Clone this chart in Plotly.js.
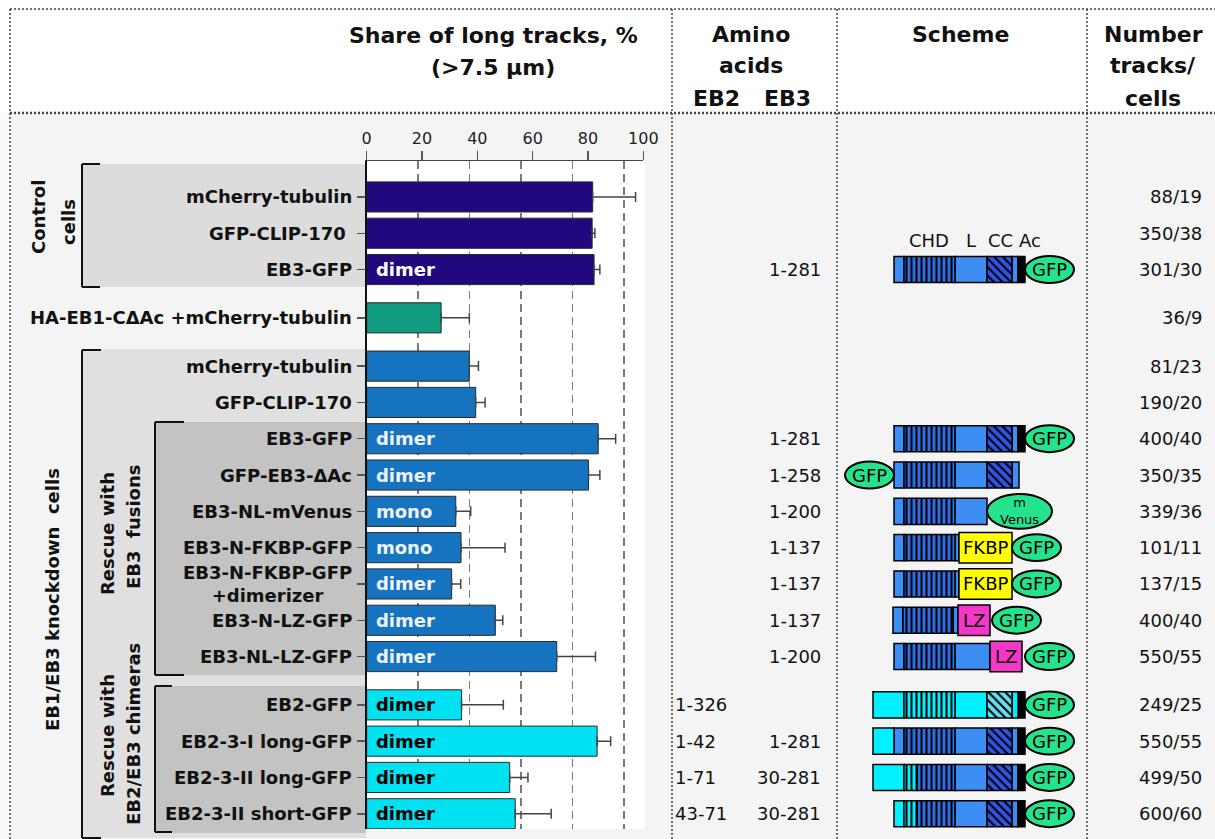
<!DOCTYPE html>
<html><head><meta charset="utf-8">
<script src="https://cdn.plot.ly/plotly-3.0.1.min.js"></script>
<style>html,body{margin:0;padding:0;background:#f4f4f4;} #chart{width:1215px;height:839px;}</style>
</head><body><div id="chart"></div>
<script>
// ---------------- data ----------------
const rowLabels = ['mCherry-tubulin','GFP-CLIP-170\u00a0','EB3-GFP','HA-EB1-CΔAc +mCherry-tubulin',
  'mCherry-tubulin','GFP-CLIP-170','EB3-GFP','GFP-EB3-ΔAc','EB3-NL-mVenus','EB3-N-FKBP-GFP',
  'EB3-N-FKBP-GFP<br>+dimerizer','EB3-N-LZ-GFP','EB3-NL-LZ-GFP','EB2-GFP','EB2-3-I long-GFP',
  'EB2-3-II long-GFP','EB2-3-II short-GFP'];
const longTrackShare = [81.7,81.5,82.2,26.9,37.1,39.4,83.7,80.2,32.2,34.1,30.7,46.5,68.7,34.3,83.3,51.7,53.7];
const shareError     = [15.5,1.0,2.1,10.2,3.3,3.4,6.3,4.1,5.4,15.9,3.3,2.7,14.0,15.1,4.9,6.6,13.0];
const oligomer = ['','','dimer','','','','dimer','dimer','mono','mono','dimer','dimer','dimer','dimer','dimer','dimer','dimer'];
const aaEB2 = ['','','','','','','','','','','','','','1-326','1-42','1-71','43-71'];
const aaEB3 = ['','','1-281','','','','1-281','1-258','1-200','1-137','1-137','1-137','1-200','','1-281','30-281','30-281'];
const tracksCells = ['88/19','350/38','301/30','36/9','81/23','190/20','400/40','350/35','339/36','101/11','137/15','400/40','550/55','249/25','550/55','499/50','600/60'];
const cellGroup = ['control','control','control','HA','KD','KD','KD','KD','KD','KD','KD','KD','KD','chimera','chimera','chimera','chimera'];
const block = [0,0,0,1,2,2,2,2,2,2,2,2,2,3,3,3,3];
const xTicks = [0,20,40,60,80,100];

// scheme: row index -> domain segments [type,start,end] and tag ellipse [label,start,end]
const schemeRows = [2,6,7,8,9,10,11,12,13,14,15,16];
const schemeParts = [
  [['N',0,10],['CHD',10,61],['N',61,93],['CC',93,118],['N',118,124],['Ac',124,131]],
  [['N',0,10],['CHD',10,61],['N',61,93],['CC',93,118],['N',118,124],['Ac',124,131]],
  [['N',0,10],['CHD',10,61],['N',61,93],['CC',93,118],['N',118,125]],
  [['N',0,10],['CHD',10,61],['N',61,93]],
  [['N',0,10],['CHD',10,61],['N',61,65],['FKBP',65,118]],
  [['N',0,10],['CHD',10,61],['N',61,65],['FKBP',65,118]],
  [['N',-1,9],['CHD',9,59],['N',59,64],['LZ',64,96]],
  [['N',0,10],['CHD',10,61],['N',61,96],['LZ',96,128]],
  [['cN',-21,10],['cCHD',10,61],['cN',61,93],['cCC',93,118],['cN',118,124],['Ac',124,131]],
  [['cN',-21,0],['N',0,10],['CHD',10,61],['N',61,93],['CC',93,118],['N',118,124],['Ac',124,131]],
  [['cN',-21,10],['cCHD',10,23],['CHD',23,61],['N',61,93],['CC',93,118],['N',118,124],['Ac',124,131]],
  [['cN',0,10],['cCHD',10,23],['CHD',23,61],['N',61,93],['CC',93,118],['N',118,124],['Ac',124,131]]
];
const schemeTags = [
  ['GFP',131,180],['GFP',131,180],['GFP',-49,0],['m<br>Venus',93,158],['GFP',118,167],['GFP',118,167],
  ['GFP',98,147],['GFP',131,180],['GFP',131,180],['GFP',131,180],['GFP',131,180],['GFP',131,180]
];
const domainLabels = [['CHD',35],['L',76.7],['CC',106.7],['Ac',136]];

// ---------------- helpers / styles ----------------
const W=1215,H=839;
const PX=x=>x/W, PY=y=>1-y/H;
const GAP=0.33;
const rowPos = block.map((b,i)=>i+GAP*b);
const FONT='DejaVu Sans';
const groupColors = {control:'#22087f', HA:'#109a80', KD:'#1673bf', chimera:'#00e2f2'};
const textColors  = {control:'#ffffff', HA:'#ffffff', KD:'#eef3f9', chimera:'#000000'};
const segStyle = {
  N:   {color:'#3d8ef4'},
  CHD: {color:'#3d8ef4', pattern:{shape:'|', fgcolor:'#000', bgcolor:'#2f6fe6', size:5, solidity:0.4}},
  CC:  {color:'#2f55e6', pattern:{shape:'\\', fgcolor:'#000', bgcolor:'#2f55e6', size:6, solidity:0.35}},
  Ac:  {color:'#000000'},
  cN:  {color:'#00f0ff'},
  cCHD:{color:'#00f0ff', pattern:{shape:'|', fgcolor:'#000', bgcolor:'#00f0ff', size:5, solidity:0.4}},
  cCC: {color:'#5fe3f3', pattern:{shape:'\\', fgcolor:'#000', bgcolor:'#5fe3f3', size:6, solidity:0.35}},
  FKBP:{color:'#ffff00', tall:true},
  LZ:  {color:'#f536c8', tall:true}
};

const traces = [];
traces.push({type:'bar', orientation:'h', x:longTrackShare, y:rowPos, xaxis:'x', yaxis:'y', width:0.83,
  marker:{color:cellGroup.map(g=>groupColors[g]), line:{color:'#2a2a2a', width:1}},
  error_x:{type:'data', symmetric:false, array:shareError, arrayminus:shareError.map(()=>0), color:'#444', thickness:1.5, width:5},
  text:oligomer.map(t=>t?'\u00a0'+t:''), textposition:'inside', insidetextanchor:'start', textangle:0, constraintext:'none',
  textfont:{family:FONT, size:18, weight:'bold', color:cellGroup.map(g=>textColors[g])},
  hoverinfo:'skip', cliponaxis:false, showlegend:false});
// helper trace so the grid axis is drawn
traces.push({type:'scatter', x:[], y:[], xaxis:'x2', yaxis:'y', hoverinfo:'skip', showlegend:false});

// scheme segments grouped by type
Object.keys(segStyle).forEach(type=>{
  const ys=[], xs=[], bases=[];
  schemeParts.forEach((parts,k)=>parts.forEach(p=>{
    if(p[0]===type){ ys.push(rowPos[schemeRows[k]]); bases.push(p[1]); xs.push(p[2]-p[1]); }
  }));
  if(!ys.length) return;
  const st=segStyle[type];
  const marker={color:st.color, line:{color:'#000', width:1.5}};
  if(st.pattern) marker.pattern=st.pattern;
  traces.push({type:'bar', orientation:'h', x:xs, base:bases, y:ys, xaxis:'x3', yaxis:'y',
    width:st.tall?0.84:0.72, marker:marker, hoverinfo:'skip', showlegend:false});
});

// ---------------- shapes ----------------
const shapes=[];
const rectPx=(x0,y0,x1,y1,fill)=>({type:'rect', xref:'paper', yref:'paper', x0:PX(x0), x1:PX(x1), y0:PY(y1), y1:PY(y0), fillcolor:fill, line:{width:0}, layer:'below'});
shapes.push(rectPx(0,0,1215,113,'#ffffff'));
shapes.push(rectPx(0,113,10,839,'#fafafa'));
shapes.push(rectPx(82,164,366,287,'#dcdcdc'));
shapes.push(rectPx(82,349,366,838,'#e0e0e0'));
shapes.push(rectPx(154,422,366,675,'#c3c3c3'));
shapes.push(rectPx(154,686,366,833,'#c3c3c3'));
shapes.push({type:'rect', xref:'x domain', yref:'y domain', x0:0, x1:1.006, y0:0, y1:1, fillcolor:'#ffffff', line:{width:0}, layer:'below'});

const linePx=(x0,y0,x1,y1,opt)=>Object.assign({type:'line', xref:'paper', yref:'paper', x0:PX(x0), x1:PX(x1), y0:PY(y0), y1:PY(y1), layer:'above'},opt);
const bracket=(x,y0,y1,t)=>[[x,y0,x+t,y0],[x,y0,x,y1],[x,y1,x+t,y1]].forEach(s=>shapes.push(linePx(s[0],s[1],s[2],s[3],{line:{color:'#111',width:2}})));
bracket(82,164,287,18);
bracket(82,350,838,19);
bracket(155,422,675,29);
bracket(155,686,832,17);

const dot={line:{color:'#444', width:1.5, dash:'2px,2px'}};
shapes.push(linePx(10,9,1215,9,dot));
shapes.push(linePx(10,113,1215,113,{line:{color:'#444', width:2.5, dash:'2px,2px'}}));
[10,672,837,1087].forEach(x=>shapes.push(linePx(x,9,x,839,dot)));

// ellipses for tags
schemeTags.forEach((t,k)=>{
  const yc=rowPos[schemeRows[k]];
  const h = t[0].indexOf('Venus')>=0 ? 0.48 : 0.37;
  shapes.push({type:'circle', xref:'x3', yref:'y', x0:t[1], x1:t[2], y0:yc-h, y1:yc+h,
    fillcolor:'#25e38c', line:{color:'#000', width:2}, layer:'above'});
});

// ---------------- annotations ----------------
const ann=[];
const txtPx=(text,x,y,size,opt)=>Object.assign({text:text, xref:'paper', yref:'paper', x:PX(x), y:PY(y), showarrow:false,
  xanchor:'center', yanchor:'middle', font:{family:FONT, size:size, color:'#111'}},opt||{});
[['Share of long tracks, %',493,36],['(>7.5 μm)',493,67],['Amino',751,35],['acids',751,66],['EB2',716,98],['EB3',787,98],
 ['Scheme',960,35],['Number',1153,35],['tracks/',1153,66],['cells',1153,98]].forEach(h=>ann.push(txtPx('<b>'+h[0]+'</b>',h[1],h[2],22)));

// vertical group labels
[['Control',38,217],['cells',68,222],['EB1/EB3 knockdown\u00a0 cells',52,600],['Rescue with',107,534],['EB3\u00a0 fusions',133,527],
 ['Rescue with',107,736],['EB2/EB3 chimeras',133,734]].forEach(v=>ann.push(txtPx('<b>'+v[0]+'</b>',v[1],v[2],18,{textangle:-90})));

// row labels and right-hand columns
rowLabels.forEach((lab,i)=>{
  ann.push({text:'<b>'+lab+'</b>', xref:'paper', yref:'y', x:PX(354), y:rowPos[i], xanchor:'right', yanchor:'middle', align:'center',
    showarrow:false, font:{family:FONT, size:18, color:'#111'}});
  if(aaEB2[i]) ann.push({text:aaEB2[i], xref:'paper', yref:'y', x:PX(673), y:rowPos[i], xanchor:'left', yanchor:'middle', showarrow:false, font:{family:FONT,size:18,color:'#111'}});
  if(aaEB3[i]) ann.push({text:aaEB3[i], xref:'paper', yref:'y', x:PX(823), y:rowPos[i], xanchor:'right', yanchor:'middle', showarrow:false, font:{family:FONT,size:18,color:'#111'}});
  ann.push({text:tracksCells[i], xref:'paper', yref:'y', x:PX(1204), y:rowPos[i], xanchor:'right', yanchor:'middle', showarrow:false, font:{family:FONT,size:18,color:'#111'}});
});

// scheme texts
schemeTags.forEach((t,k)=>{
  const isV=t[0].indexOf('Venus')>=0;
  ann.push({text:t[0], xref:'x3', yref:'y', x:(t[1]+t[2])/2, y:rowPos[schemeRows[k]], showarrow:false, xanchor:'center', yanchor:'middle',
    font:{family:FONT, size:isV?13:18, color:'#000'}});
});
schemeParts.forEach((parts,k)=>parts.forEach(p=>{
  if(p[0]==='FKBP'||p[0]==='LZ') ann.push({text:p[0], xref:'x3', yref:'y', x:(p[1]+p[2])/2, y:rowPos[schemeRows[k]], showarrow:false,
    xanchor:'center', yanchor:'middle', font:{family:FONT, size:18, color:'#000'}});
}));
domainLabels.forEach(d=>ann.push({text:d[0], xref:'x3', yref:'y', x:d[1], y:rowPos[schemeRows[0]]-0.8, showarrow:false,
  xanchor:'center', yanchor:'middle', font:{family:FONT, size:18, color:'#111'}}));

// ---------------- layout ----------------
const layout = {
  width:W, height:H, margin:{l:0,r:0,t:0,b:0}, paper_bgcolor:'#f4f4f4', plot_bgcolor:'rgba(0,0,0,0)',
  barmode:'overlay', showlegend:false, hovermode:false, font:{family:FONT, color:'#111'},
  xaxis:{domain:[PX(366.7),PX(643.3)], range:[0,100], side:'top', anchor:'y', tickvals:xTicks, ticks:'outside', ticklen:9,
    tickwidth:1.5, tickcolor:'#555', showline:true, linecolor:'#444', linewidth:1.5, showgrid:false, zeroline:false,
    tickfont:{family:FONT, size:16, color:'#222'}, fixedrange:true},
  xaxis2:{overlaying:'x', side:'top', anchor:'y', range:[0,107.4], tickvals:[20,40,60,80,100], showticklabels:false, ticks:'',
    showgrid:true, gridcolor:'#7a7a7a', gridwidth:1.5, griddash:'8px,5px', showline:false, zeroline:false, fixedrange:true},
  xaxis3:{domain:[PX(839),PX(1087)], range:[-55,193], anchor:'y', visible:false, fixedrange:true},
  yaxis:{domain:[PY(829),PY(161)], range:[17.41,-0.99], anchor:'x', showline:true, linecolor:'#111', linewidth:2,
    ticks:'outside', ticklen:8, tickwidth:1.5, tickcolor:'#555', tickvals:rowPos, showticklabels:false, showgrid:false,
    zeroline:false, fixedrange:true},
  shapes:shapes, annotations:ann
};
Plotly.newPlot('chart', traces, layout, {displayModeBar:false, staticPlot:true});
</script></body></html>
